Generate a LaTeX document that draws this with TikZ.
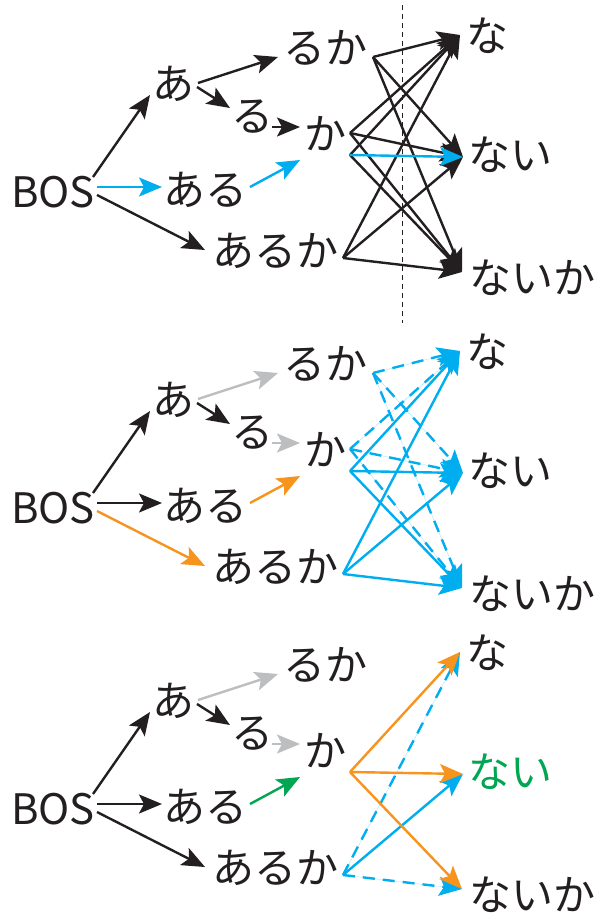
\documentclass[tikz,border=0pt]{standalone}
\usepackage{fontspec}
\setmainfont{Noto Sans CJK JP}
\usetikzlibrary{arrows.meta}
\definecolor{inkc}{HTML}{231F20}
\definecolor{bluec}{HTML}{00AEEF}
\definecolor{orangec}{HTML}{F7941E}
\definecolor{greenc}{HTML}{00A651}
\definecolor{grayc}{HTML}{BCBEC0}
\tikzset{
  lbl/.style={inner sep=0pt, text=inkc, font=\fontsize{42bp}{48bp}\selectfont},
  edge/.style={line width=2.4bp, -{Stealth[length=23bp,width=19bp,inset=5bp]}},
  ek/.style={edge, draw=inkc, fill=inkc},
  eb/.style={edge, draw=bluec, fill=bluec},
  eo/.style={edge, draw=orangec, fill=orangec},
  eg/.style={edge, draw=greenc, fill=greenc},
  egr/.style={edge, draw=grayc, fill=grayc},
  dsh/.style={dash pattern=on 12bp off 8bp},
}
\newcommand\panelnodes[2]{%
  \node[lbl] (#1bos)   at (53,{192+#2})  {BOS};
  \node[lbl] (#1a)     at (173,{84+#2})  {あ};
  \node[lbl] (#1ruka)  at (325,{48+#2})  {るか};
  \node[lbl] (#1ru)    at (252,{117+#2}) {る};
  \node[lbl] (#1ka)    at (325,{134+#2}) {か};
  \node[lbl] (#1aru)   at (205,{190+#2}) {ある};
  \node[lbl] (#1aruka) at (275,{251+#2}) {あるか};
  \node[lbl] (#1na)    at (487,{36+#2})  {な};
  \node[lbl] (#1naika) at (532,{278+#2}) {ないか};
  % ports
  \coordinate (#1bosA) at (93,{177+#2});
  \coordinate (#1bosB) at (97,{187+#2});
  \coordinate (#1bosC) at (97,{195+#2});
  \coordinate (#1aIn)  at (150,{95+#2});
  \coordinate (#1aOutA) at (198,{83+#2});
  \coordinate (#1aOutB) at (197,{87+#2});
  \coordinate (#1rukaIn) at (278,{57+#2});
  \coordinate (#1ruIn)  at (230,{108+#2});
  \coordinate (#1ruOut) at (272,{127+#2});
  \coordinate (#1kaInA) at (300,{127+#2});
  \coordinate (#1kaInB) at (300,{160+#2});
  \coordinate (#1aruIn) at (162,{187+#2});
  \coordinate (#1aruOut) at (250,{187+#2});
  \coordinate (#1arukaIn) at (205,{250+#2});
  \coordinate (#1sRuka) at (373,{57+#2});
  \coordinate (#1sKaU)  at (350,{133+#2});
  \coordinate (#1sKaL)  at (350,{155+#2});
  \coordinate (#1sAruka) at (343,{258+#2});
  \coordinate (#1tNa)   at (460,{35+#2});
  \coordinate (#1tNai)  at (463,{157+#2});
  \coordinate (#1tNaika) at (462,{272+#2});
}
\begin{document}
\begin{tikzpicture}[x=1bp,y=-1bp]
\useasboundingbox[fill=white] (0,0) rectangle (596,917);
% ---------- panel 1 ----------
\panelnodes{p}{0}
\node[lbl] (pnai) at (510,155) {ない};
\coordinate (vtop) at (402,5);
\coordinate (vbot) at (402,323);
\draw[inkc, line width=0.8bp, dash pattern=on 5bp off 4bp] (vtop) -- (vbot);
\draw[ek] (pbosA) -- (paIn);
\draw[ek] (pbosC) -- (parukaIn);
\draw[ek] (paOutA) -- (prukaIn);
\draw[ek] (paOutB) -- (pruIn);
\draw[ek] (pruOut) -- (pkaInA);
\draw[eb] (pbosB) -- (paruIn);
\draw[eb] (paruOut) -- (pkaInB);
\foreach \s in {sRuka,sKaU,sAruka} {
  \draw[ek] (p\s) -- (ptNa);
  \draw[ek] (p\s) -- (ptNai);
  \draw[ek] (p\s) -- (ptNaika);
}
\draw[ek] (psKaL) -- (ptNa);
\draw[ek] (psKaL) -- (ptNaika);
\draw[eb] (psKaL) -- (ptNai);
% ---------- panel 2 ----------
\panelnodes{q}{316}
\node[lbl] (qnai) at (510,471) {ない};
\draw[ek] (qbosA) -- (qaIn);
\draw[ek] (qbosB) -- (qaruIn);
\draw[eo] (qbosC) -- (qarukaIn);
\draw[egr] (qaOutA) -- (qrukaIn);
\draw[ek] (qaOutB) -- (qruIn);
\draw[egr] (qruOut) -- (qkaInA);
\draw[eo] (qaruOut) -- (qkaInB);
\foreach \s in {sRuka,sKaU} {
  \draw[eb,dsh] (q\s) -- (qtNa);
  \draw[eb,dsh] (q\s) -- (qtNai);
  \draw[eb,dsh] (q\s) -- (qtNaika);
}
\foreach \s in {sKaL,sAruka} {
  \draw[eb] (q\s) -- (qtNa);
  \draw[eb] (q\s) -- (qtNai);
  \draw[eb] (q\s) -- (qtNaika);
}
% ---------- panel 3 ----------
\panelnodes{r}{617}
\node[lbl, text=greenc] (rnai) at (510,772) {ない};
\draw[ek] (rbosA) -- (raIn);
\draw[ek] (rbosB) -- (raruIn);
\draw[ek] (rbosC) -- (rarukaIn);
\draw[egr] (raOutA) -- (rrukaIn);
\draw[ek] (raOutB) -- (rruIn);
\draw[egr] (rruOut) -- (rkaInA);
\draw[eg] (raruOut) -- (rkaInB);
\draw[eb,dsh] (rsAruka) -- (rtNa);
\draw[eb] (rsAruka) -- (rtNai);
\draw[eb,dsh] (rsAruka) -- (rtNaika);
\draw[eo] (rsKaL) -- (rtNa);
\draw[eo] (rsKaL) -- (rtNai);
\draw[eo] (rsKaL) -- (rtNaika);
\end{tikzpicture}
\end{document}
